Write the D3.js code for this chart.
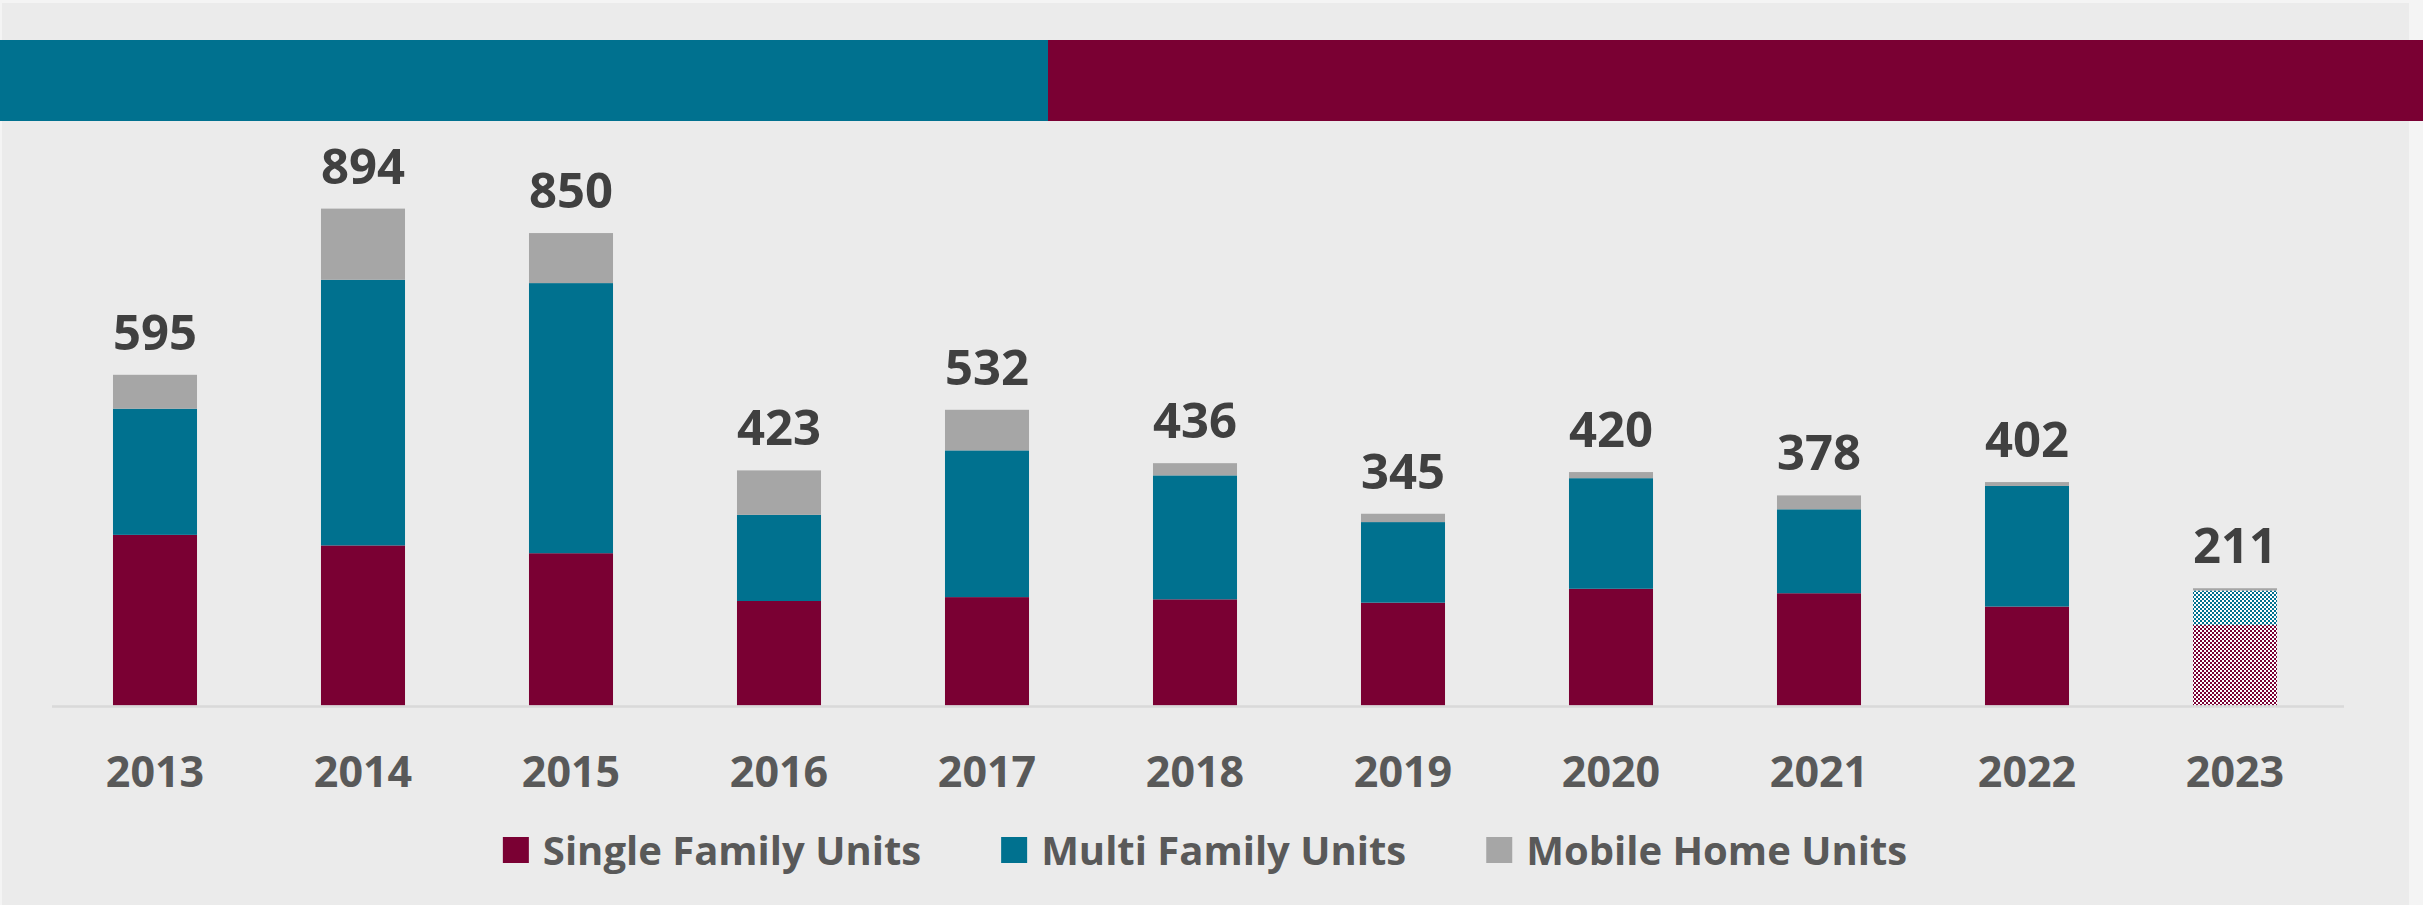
<!DOCTYPE html>
<html lang="en">
<head>
    <meta charset="UTF-8">
    <title>Housing Units by Year</title>
    <script src="https://d3js.org/d3.v7.min.js"></script>
    <style>
        body { margin: 0; background: #f4f4f4; }
        svg { display: block; }
        .value { font-family: 'Open Sans', sans-serif; font-weight: 700; fill: #404040; }
        .year text { font-family: 'Open Sans', sans-serif; font-weight: 700; fill: #595959; }
        .legend text { font-family: 'Open Sans', sans-serif; font-weight: 700; fill: #595959; }
    </style>
</head>
<body>
<svg></svg>
<script>
    const years = ['2013', '2014', '2015', '2016', '2017', '2018', '2019', '2020', '2021', '2022', '2023'];
    const singleFamily = [307, 288, 274, 188, 195, 191, 185, 210, 202, 178, 145];
    const multiFamily = [227, 478, 486, 155, 264, 223, 145, 199, 151, 217, 62];
    const mobileHome = [61, 128, 90, 80, 73, 22, 15, 11, 25, 7, 4];
    const totals = [595, 894, 850, 423, 532, 436, 345, 420, 378, 402, 211];
    const partialYears = ['2023'];   // year to date, drawn hatched
    const seriesNames = ['Single Family Units', 'Multi Family Units', 'Mobile Home Units'];
    const colors = ['#7a0033', '#00718f', '#a6a6a6'];

    const width = 2423, height = 905;
    const svg = d3.select('svg').attr('width', width).attr('height', height);

    // background panel + top banner
    svg.append('rect').attr('x', 2).attr('y', 3).attr('width', 2407).attr('height', height - 3).attr('fill', '#ebebeb');
    svg.append('rect').attr('x', 0).attr('y', 40).attr('width', 1048).attr('height', 81).attr('fill', colors[1]);
    svg.append('rect').attr('x', 1048).attr('y', 40).attr('width', width - 1048).attr('height', 81).attr('fill', colors[0]);

    // checker patterns for the partial year
    const defs = svg.append('defs');
    colors.forEach((c, i) => {
        const p = defs.append('pattern').attr('id', 'chk' + i)
            .attr('patternUnits', 'userSpaceOnUse').attr('width', 4).attr('height', 4);
        p.append('rect').attr('width', 4).attr('height', 4).attr('fill', '#ffffff');
        p.append('rect').attr('width', 2).attr('height', 2).attr('fill', c);
        p.append('rect').attr('x', 2).attr('y', 2).attr('width', 2).attr('height', 2).attr('fill', c);
    });

    const x = d3.scaleBand().domain(years).range([51, 2339])
        .paddingInner(0.596).paddingOuter(0.298);
    const y = d3.scaleLinear().domain([0, 1000]).range([705.5, 149.7]);

    const table = years.map((yr, i) => ({
        year: yr, single: singleFamily[i], multi: multiFamily[i], mobile: mobileHome[i], total: totals[i]
    }));
    const keys = ['single', 'multi', 'mobile'];
    const stacked = d3.stack().keys(keys)(table);

    svg.append('g').selectAll('g').data(stacked).join('g')
        .each(function (layer, li) {
            d3.select(this).selectAll('rect').data(layer).join('rect')
                .attr('x', d => x(d.data.year))
                .attr('width', x.bandwidth())
                .attr('y', d => y(d[1]))
                .attr('height', d => y(d[0]) - y(d[1]))
                .attr('fill', d => (partialYears.includes(d.data.year) && li < 2) ? `url(#chk${li})` : colors[li]);
        });

    // axis
    const axis = svg.append('g').attr('class', 'year')
        .attr('transform', `translate(0,${y(0) + 1})`)
        .call(d3.axisBottom(x).tickSize(0));
    axis.select('.domain').attr('stroke', '#d9d9d9').attr('stroke-width', 2.5)
        .attr('d', 'M1,0H2293');
    axis.select('.domain').attr('transform', 'translate(51,0)');
    axis.selectAll('.tick text').attr('y', 80).attr('dy', 0).attr('font-size', 43);

    // totals
    svg.append('g').selectAll('text').data(table).join('text')
        .attr('class', 'value')
        .attr('x', d => x(d.year) + x.bandwidth() / 2)
        .attr('y', d => y(d.total) - 25)
        .attr('text-anchor', 'middle')
        .attr('font-size', 49)
        .text(d => d.total);

    // legend
    const legend = svg.append('g').attr('class', 'legend');
    const items = legend.selectAll('g').data(seriesNames).join('g');
    items.append('rect').attr('width', 26).attr('height', 26).attr('y', -13)
        .attr('fill', (d, i) => colors[i]);
    items.append('text').attr('x', 40).attr('y', 15).attr('font-size', 40).text(d => d);
    let cx = 0;
    items.each(function () {
        const w = 40 + this.querySelector('text').getComputedTextLength();
        d3.select(this).attr('transform', `translate(${cx},850)`);
        cx += w + 80;
    });
    const total = cx - 80;
    legend.attr('transform', `translate(${1205 - total / 2},0)`);
</script>
</body>
</html>
